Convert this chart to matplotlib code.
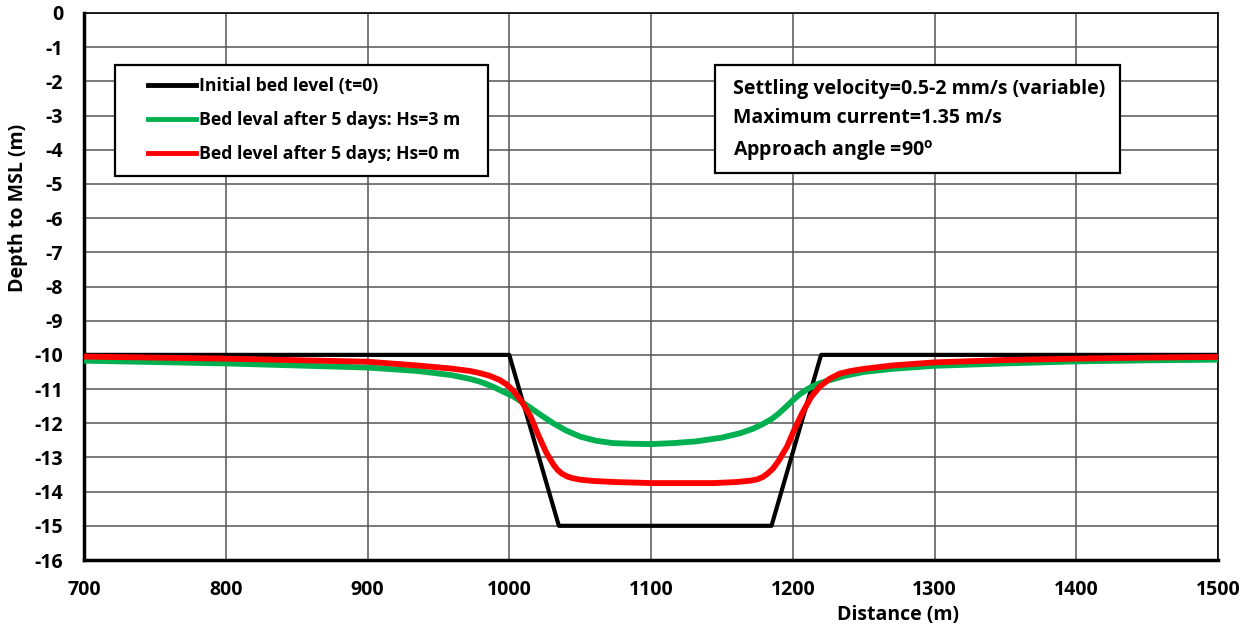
import matplotlib
matplotlib.use('Agg')
import matplotlib.pyplot as plt
from matplotlib.patches import Rectangle

plt.rcParams['font.family'] = ['Open Sans', 'DejaVu Sans']
plt.rcParams['font.weight'] = 'bold'
plt.rcParams['axes.unicode_minus'] = False
plt.rcParams['mathtext.fontset'] = 'custom'
plt.rcParams['mathtext.rm'] = 'Open Sans:bold'

# initial trench profile
x_init = [700, 1000, 1035, 1185, 1220, 1500]
z_init = [-10, -10, -15, -15, -10, -10]

# bed level after 5 days, Hs = 3 m
x_hs3 = [700, 800, 900, 935, 959, 972, 979, 985, 990, 996, 1003, 1009, 1015, 1023, 1031,
         1040, 1050, 1061, 1073, 1086, 1100, 1116, 1132, 1150, 1163, 1172, 1179, 1185,
         1190, 1195, 1200, 1205, 1210, 1215, 1219, 1226, 1237, 1250, 1270, 1300, 1350,
         1400, 1450, 1500]
z_hs3 = [-10.17, -10.25, -10.37, -10.47, -10.59, -10.70, -10.78, -10.87, -10.96, -11.08,
         -11.22, -11.38, -11.55, -11.78, -12.00, -12.21, -12.39, -12.51, -12.58, -12.60,
         -12.61, -12.58, -12.53, -12.42, -12.29, -12.16, -12.02, -11.88, -11.72, -11.53,
         -11.33, -11.15, -11.01, -10.90, -10.83, -10.74, -10.61, -10.50, -10.41, -10.32,
         -10.25, -10.19, -10.16, -10.14]

# bed level after 5 days, Hs = 0 m
x_hs0 = [700, 800, 900, 935, 959, 972, 979, 986, 993, 998, 1003, 1009, 1015, 1020, 1026,
         1031, 1034, 1037, 1041, 1045, 1050, 1060, 1075, 1100, 1144, 1160, 1170, 1175,
         1179, 1182, 1186, 1190, 1196, 1201, 1207, 1213, 1219, 1226, 1233, 1241, 1250,
         1270, 1300, 1350, 1400, 1450, 1500]
z_hs0 = [-10.05, -10.11, -10.20, -10.31, -10.40, -10.47, -10.53, -10.61, -10.73, -10.86,
         -11.05, -11.38, -11.80, -12.30, -12.85, -13.20, -13.36, -13.47, -13.56, -13.61,
         -13.65, -13.69, -13.72, -13.75, -13.75, -13.72, -13.68, -13.64, -13.57, -13.48,
         -13.33, -13.10, -12.68, -12.20, -11.68, -11.23, -10.93, -10.70, -10.55, -10.47,
         -10.41, -10.31, -10.22, -10.15, -10.11, -10.08, -10.06]

labels = ['Initial bed level (t=0)',
          'Bed leval after 5 days: Hs=3 m',
          'Bed level after 5 days; Hs=0 m']
notes = ['Settling velocity=0.5-2 mm/s (variable)',
         'Maximum current=1.35 m/s',
         'Approach angle =90$^{\\rm o}$']

W, H = 1247, 632
L, R, T, B = 84, 1218, 13, 560
fig = plt.figure(figsize=(W / 100, H / 100), dpi=100)
ax = fig.add_axes([L / W, 1 - B / H, (R - L) / W, (B - T) / H])


def axfrac(px, py):
    # pixel position -> axes fraction
    return (px - L) / (R - L), (B - py) / (B - T)


ax.plot(x_init, z_init, color='black', lw=3.0, label=labels[0], zorder=3)
ax.plot(x_hs3, z_hs3, color='#00b050', lw=4.2, label=labels[1], zorder=4)
ax.plot(x_hs0, z_hs0, color='#ff0000', lw=4.2, label=labels[2], zorder=5)

ax.set_xlim(700, 1500)
ax.set_ylim(-16, 0)
ax.set_xticks(range(700, 1501, 100))
ax.set_yticks(range(-16, 1))
ax.grid(True, color='#555555', lw=1.1)
ax.set_axisbelow(True)
ax.tick_params(length=0, labelsize=14)
ax.tick_params(axis='x', pad=14.5)
ax.tick_params(axis='y', pad=15)
for s in ax.spines.values():
    s.set_linewidth(1.2)
ax.spines['left'].set_linewidth(2.5)
ax.spines['bottom'].set_linewidth(2.5)

ax.set_ylabel('Depth to MSL (m)', fontsize=14, fontweight='bold')
ax.yaxis.set_label_coords(*axfrac(18, 208))
ax.yaxis.label.set_va('center')
ax.set_xlabel('Distance (m)', fontsize=14, fontweight='bold')
ax.xaxis.set_label_coords(*axfrac(898, 615))
ax.xaxis.label.set_va('center')

# legend frame drawn separately so its size is fixed
x0, y0 = axfrac(115, 176)
x1, y1 = axfrac(488, 65)
ax.add_patch(Rectangle((x0, y0), x1 - x0, y1 - y0, transform=ax.transAxes,
                       facecolor='white', edgecolor='black', lw=1.6, zorder=6))
leg = ax.legend(loc='upper left', bbox_to_anchor=axfrac(148, 77), fontsize=12.7,
                handlelength=2.7, handletextpad=0.17, labelspacing=0.92,
                borderpad=0, borderaxespad=0, frameon=False)
leg.set_zorder(7)
for h in leg.get_lines():
    h.set_linewidth(3.5)

# parameter box
x0, y0 = axfrac(715, 173)
x1, y1 = axfrac(1120, 65)
ax.add_patch(Rectangle((x0, y0), x1 - x0, y1 - y0, transform=ax.transAxes,
                       facecolor='white', edgecolor='black', lw=1.6, zorder=6))
ax.text(*axfrac(733, 79), '\n'.join(notes), transform=ax.transAxes,
        fontsize=14, va='top', ha='left', linespacing=1.57, zorder=7)

fig.savefig('out.png', dpi=100)
